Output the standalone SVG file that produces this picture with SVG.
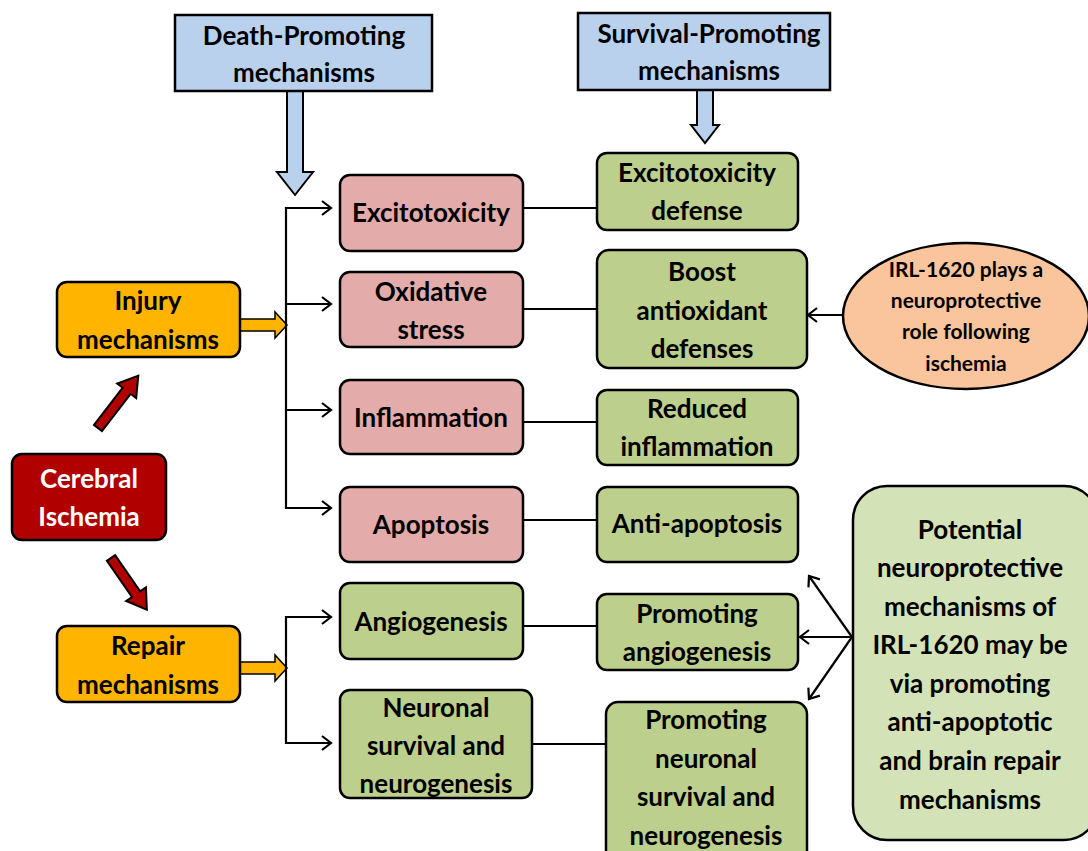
<svg xmlns="http://www.w3.org/2000/svg" width="1088" height="851" viewBox="0 0 1088 851">
<defs>
<style>
.b{stroke:#000;stroke-width:2.5}
.hdr{fill:#B9D1EC}
.pk{fill:#E3ABAA}
.gr{fill:#BCCF8C}
.gl{fill:#D4E2B8}
.or{fill:#FFB400}
.rd{fill:#B10000}
.pe{fill:#FAC59C}
text{font-family:Lato,"Open Sans","Liberation Sans",sans-serif;font-weight:bold;font-size:26px;text-anchor:middle;fill:#000}
.w{fill:#fff}
.sm{font-size:21px}
.ln{stroke:#000;stroke-width:2.2;fill:none}
.ha{fill:#B9D1EC;stroke:#000;stroke-width:2}
.oa{fill:#FFB400;stroke:#000;stroke-width:1.5}
.ra{fill:#B10000;stroke:#000;stroke-width:2}
</style>
<marker id="ah" markerWidth="14" markerHeight="18" refX="11" refY="9" orient="auto" markerUnits="userSpaceOnUse">
<path d="M2,2 L11,9 L2,16" fill="none" stroke="#000" stroke-width="2.2"/>
</marker>
</defs>
<rect width="1088" height="851" fill="#fff"/>

<g id="connectors">
<polygon class="ha" points="287,91 303,91 303,172 313,172 295,195 277,172 287,172"/>
<polygon class="ha" points="697,90 713,90 713,125 719,125 705,143 691,125 697,125"/>
<polygon class="oa" points="240,319 275,319 275,312 287,325 275,338 275,331 240,331"/>
<polygon class="oa" points="240,662 275,662 275,655 287,668 275,681 275,674 240,674"/>
<polygon class="ra" transform="translate(98,428) rotate(-52.4)" points="0,-5 47,-5 47,-12 66,0 47,12 47,5 0,5"/>
<polygon class="ra" transform="translate(111,558) rotate(55.3)" points="0,-5 44,-5 44,-12 63,0 44,12 44,5 0,5"/>
<path class="ln" d="M330,208 H286 V508 H330"/>
<path class="ln" d="M286,304 H330 M286,410 H330" />
<line class="ln" x1="286" y1="208" x2="331" y2="208" marker-end="url(#ah)"/>
<line class="ln" x1="286" y1="304" x2="331" y2="304" marker-end="url(#ah)"/>
<line class="ln" x1="286" y1="410" x2="331" y2="410" marker-end="url(#ah)"/>
<line class="ln" x1="286" y1="508" x2="331" y2="508" marker-end="url(#ah)"/>
<path class="ln" d="M331,617 H286 V743 H331"/>
<line class="ln" x1="286" y1="617" x2="331" y2="617" marker-end="url(#ah)"/>
<line class="ln" x1="286" y1="743" x2="331" y2="743" marker-end="url(#ah)"/>
<line class="ln" x1="523" y1="208" x2="597" y2="208"/>
<line class="ln" x1="523" y1="309" x2="597" y2="309"/>
<line class="ln" x1="523" y1="422" x2="597" y2="422"/>
<line class="ln" x1="523" y1="520" x2="597" y2="520"/>
<line class="ln" x1="523" y1="626" x2="597" y2="626"/>
<line class="ln" x1="532" y1="744" x2="606" y2="744"/>
<line class="ln" x1="843" y1="315" x2="808" y2="315" marker-end="url(#ah)"/>
<line class="ln" x1="852" y1="637" x2="800" y2="637" marker-end="url(#ah)"/>
<line class="ln" x1="852" y1="637" x2="809" y2="576" marker-end="url(#ah)"/>
<line class="ln" x1="852" y1="637" x2="809" y2="699" marker-end="url(#ah)"/>
</g>

<g id="death-promoting">
<rect class="hdr b" x="175" y="15" width="257" height="76"/>
<text x="304" y="45">Death-Promoting</text>
<text x="304" y="82">mechanisms</text>
</g>
<g id="survival-promoting">
<rect class="hdr b" x="578" y="13" width="252" height="77"/>
<text x="709" y="43">Survival-Promoting</text>
<text x="709" y="80">mechanisms</text>
</g>

<g id="injury">
<rect class="or b" x="57" y="282" width="183" height="75" rx="10"/>
<text x="148" y="310">Injury</text>
<text x="148" y="349">mechanisms</text>
</g>
<g id="cerebral-ischemia">
<rect class="rd b" x="12" y="454" width="154" height="86" rx="10"/>
<text class="w" x="89" y="488">Cerebral</text>
<text class="w" x="89" y="526">Ischemia</text>
</g>
<g id="repair">
<rect class="or b" x="57" y="626" width="183" height="76" rx="10"/>
<text x="148" y="655">Repair</text>
<text x="148" y="694">mechanisms</text>
</g>

<g id="excitotoxicity">
<rect class="pk b" x="340" y="175" width="183" height="76" rx="10"/>
<text x="431" y="222">Excitotoxicity</text>
</g>
<g id="oxidative-stress">
<rect class="pk b" x="340" y="272" width="183" height="75" rx="10"/>
<text x="431" y="301">Oxidative</text>
<text x="431" y="339">stress</text>
</g>
<g id="inflammation">
<rect class="pk b" x="340" y="380" width="183" height="74" rx="10"/>
<text x="431" y="427">Inflammation</text>
</g>
<g id="apoptosis">
<rect class="pk b" x="340" y="487" width="183" height="75" rx="10"/>
<text x="431" y="534">Apoptosis</text>
</g>
<g id="angiogenesis">
<rect class="gr b" x="340" y="583" width="183" height="76" rx="10"/>
<text x="431" y="631">Angiogenesis</text>
</g>
<g id="neuronal-survival">
<rect class="gr b" x="340" y="690" width="192" height="108" rx="10"/>
<text x="436" y="717">Neuronal</text>
<text x="436" y="755">survival and</text>
<text x="436" y="793">neurogenesis</text>
</g>

<g id="excitotoxicity-defense">
<rect class="gr b" x="597" y="153" width="201" height="77" rx="10"/>
<text x="697" y="182">Excitotoxicity</text>
<text x="697" y="220">defense</text>
</g>
<g id="boost-antioxidant">
<rect class="gr b" x="597" y="250" width="210" height="118" rx="12"/>
<text x="702" y="281">Boost</text>
<text x="702" y="320">antioxidant</text>
<text x="702" y="358">defenses</text>
</g>
<g id="reduced-inflammation">
<rect class="gr b" x="597" y="390" width="201" height="75" rx="10"/>
<text x="697" y="418">Reduced</text>
<text x="697" y="456">inflammation</text>
</g>
<g id="anti-apoptosis">
<rect class="gr b" x="597" y="487" width="201" height="75" rx="10"/>
<text x="697" y="533">Anti-apoptosis</text>
</g>
<g id="promoting-angiogenesis">
<rect class="gr b" x="597" y="594" width="201" height="76" rx="10"/>
<text x="697" y="623">Promoting</text>
<text x="697" y="661">angiogenesis</text>
</g>
<g id="promoting-neuronal">
<rect class="gr b" x="606" y="702" width="201" height="170" rx="12"/>
<text x="706" y="729">Promoting</text>
<text x="706" y="768">neuronal</text>
<text x="706" y="806">survival and</text>
<text x="706" y="845">neurogenesis</text>
</g>

<g id="irl-ellipse">
<ellipse class="pe b" cx="966" cy="316" rx="123" ry="73"/>
<text class="sm" x="966" y="277">IRL-1620 plays a</text>
<text class="sm" x="966" y="308">neuroprotective</text>
<text class="sm" x="966" y="339">role following</text>
<text class="sm" x="966" y="371">ischemia</text>
</g>

<g id="potential-mechanisms">
<rect class="gl b" x="853" y="486" width="245" height="354" rx="34"/>
<text x="970" y="539">Potential</text>
<text x="970" y="577">neuroprotective</text>
<text x="970" y="616">mechanisms of</text>
<text x="970" y="654">IRL-1620 may be</text>
<text x="970" y="693">via promoting</text>
<text x="970" y="731">anti-apoptotic</text>
<text x="970" y="770">and brain repair</text>
<text x="970" y="809">mechanisms</text>
</g>
</svg>
